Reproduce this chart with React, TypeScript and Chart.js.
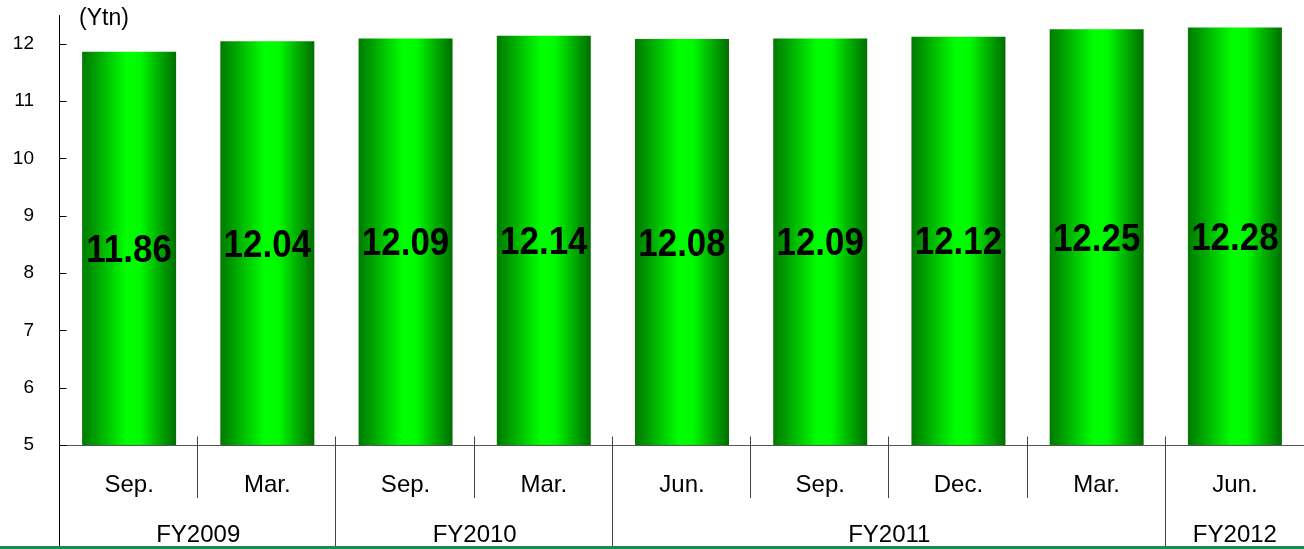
import React, { useEffect, useRef } from "react";
import { Chart, registerables } from "chart.js";

Chart.register(...registerables);

const categories = ["Sep.", "Mar.", "Sep.", "Mar.", "Jun.", "Sep.", "Dec.", "Mar.", "Jun."];
const values = [11.86, 12.04, 12.09, 12.14, 12.08, 12.09, 12.12, 12.25, 12.28];
const groups = [
  { label: "FY2009", span: 2 },
  { label: "FY2010", span: 2 },
  { label: "FY2011", span: 4 },
  { label: "FY2012", span: 1 },
];
const unitLabel = "(Ytn)";
const yMin = 5;
const yMax = 12.5;
const BAR_PCT = 0.68;

const FONT = "'Liberation Sans', Arial, sans-serif";

function makeGradient(ctx: CanvasRenderingContext2D, x0: number, x1: number) {
  const g = ctx.createLinearGradient(x0, 0, x1, 0);
  g.addColorStop(0, "#007a00");
  g.addColorStop(0.15, "#00a200");
  g.addColorStop(0.32, "#00d400");
  g.addColorStop(0.47, "#00ff00");
  g.addColorStop(0.62, "#00fa00");
  g.addColorStop(0.8, "#00b400");
  g.addColorStop(1, "#006e00");
  return g;
}

const customPlugin = {
  id: "customDecor",
  afterDraw(chart: any) {
    const ctx: CanvasRenderingContext2D = chart.ctx;
    const area = chart.chartArea;
    const yScale = chart.scales.y;
    const n = categories.length;
    const left = Math.round(area.left) - 0.5;
    const right = chart.width;
    const catW = (area.right - area.left) / n;
    const axisY = Math.round(area.bottom) + 0.5;
    const H = chart.height;

    ctx.save();
    // value labels, centred in the visible part of each bar
    const meta = chart.getDatasetMeta(0);
    const basePx = yScale.getPixelForValue(yMin);
    const vSize = 38;
    ctx.fillStyle = "#000";
    ctx.font = `bold ${vSize}px ${FONT}`;
    ctx.textAlign = "center";
    ctx.textBaseline = "alphabetic";
    meta.data.forEach((bar: any, i: number) => {
      const cy = (bar.y + basePx) / 2;
      ctx.save();
      ctx.translate(bar.x, cy + vSize * 0.358);
      ctx.scale(0.92, 1);
      ctx.fillText(values[i].toFixed(2), 0, 0);
      ctx.restore();
    });

    // horizontal axis line
    ctx.strokeStyle = "#555";
    ctx.lineWidth = 1;
    ctx.beginPath();
    ctx.moveTo(left, axisY);
    ctx.lineTo(right, axisY);
    ctx.stroke();

    // y axis line
    ctx.strokeStyle = "#000";
    ctx.beginPath();
    ctx.moveTo(left, Math.round(area.top));
    ctx.lineTo(left, H);
    ctx.stroke();

    // inward tick marks
    yScale.ticks.forEach((t: any) => {
      const y = Math.round(yScale.getPixelForValue(t.value)) + 0.5;
      ctx.beginPath();
      ctx.moveTo(left, y);
      ctx.lineTo(left + 7, y);
      ctx.stroke();
    });

    // category dividers and labels
    ctx.strokeStyle = "#444";
    const groupBounds = new Set<number>();
    let acc = 0;
    groups.forEach((g) => {
      acc += g.span;
      groupBounds.add(acc);
    });
    for (let i = 1; i < n; i++) {
      const x = Math.round(area.left + i * catW) - 0.5;
      ctx.beginPath();
      ctx.moveTo(x, axisY - 9);
      ctx.lineTo(x, groupBounds.has(i) ? H : 498);
      ctx.stroke();
    }

    ctx.fillStyle = "#000";
    ctx.font = `24px ${FONT}`;
    ctx.textAlign = "center";
    ctx.textBaseline = "alphabetic";
    const xScale = chart.scales.x;
    categories.forEach((c, i) => {
      ctx.fillText(c, xScale.getPixelForValue(i), 492);
    });
    let start = 0;
    groups.forEach((g) => {
      const x0 = area.left + start * catW;
      const x1 = area.left + (start + g.span) * catW;
      ctx.fillText(g.label, (x0 + x1) / 2, 542);
      start += g.span;
    });

    // bottom green line
    ctx.fillStyle = "#1b8a4f";
    ctx.fillRect(0, H - 3, chart.width, 3);

    // unit label
    ctx.fillStyle = "#000";
    ctx.font = `23px ${FONT}`;
    ctx.textAlign = "left";
    ctx.textBaseline = "middle";
    ctx.fillText(unitLabel, 79, 19);
    ctx.restore();
  },
};

export default function App() {
  const ref = useRef<HTMLCanvasElement | null>(null);
  useEffect(() => {
    if (!ref.current) return;
    const chart = new Chart(ref.current, {
      type: "bar",
      data: {
        labels: categories,
        datasets: [
          {
            data: values,
            backgroundColor: (c: any) => {
              const ch = c.chart;
              const xs = ch.scales.x;
              const area = ch.chartArea;
              if (!xs || !area) return "#00e000";
              const catW = (area.right - area.left) / categories.length;
              const cx = xs.getPixelForValue(c.dataIndex);
              const half = (catW * BAR_PCT) / 2;
              return makeGradient(ch.ctx, cx - half, cx + half);
            },
            borderWidth: 0,
            categoryPercentage: 1,
            barPercentage: BAR_PCT,
          },
        ],
      },
      options: {
        animation: false,
        responsive: false,
        devicePixelRatio: 1,
        layout: { padding: { top: 15, right: 0, bottom: 104, left: 0 } },
        plugins: { legend: { display: false }, tooltip: { enabled: false }, title: { display: false } },
        scales: {
          x: { display: false, offset: true },
          y: {
            min: yMin,
            max: yMax,
            afterFit: (s: any) => {
              s.width = 60;
              s.paddingTop = 0;
              s.paddingBottom = 0;
            },
            grid: { display: false, drawTicks: false },
            border: { display: false },
            ticks: {
              stepSize: 1,
              includeBounds: false,
              padding: 26,
              color: "#000",
              font: { family: FONT, size: 19 },
            },
          },
        },
      },
      plugins: [customPlugin],
    });
    return () => chart.destroy();
  }, []);
  return (
    <div style={{ position: "absolute", left: 0, top: 0, width: 1304, height: 549, background: "#fff" }}>
      <canvas ref={ref} width={1304} height={549} style={{ display: "block" }} />
    </div>
  );
}
